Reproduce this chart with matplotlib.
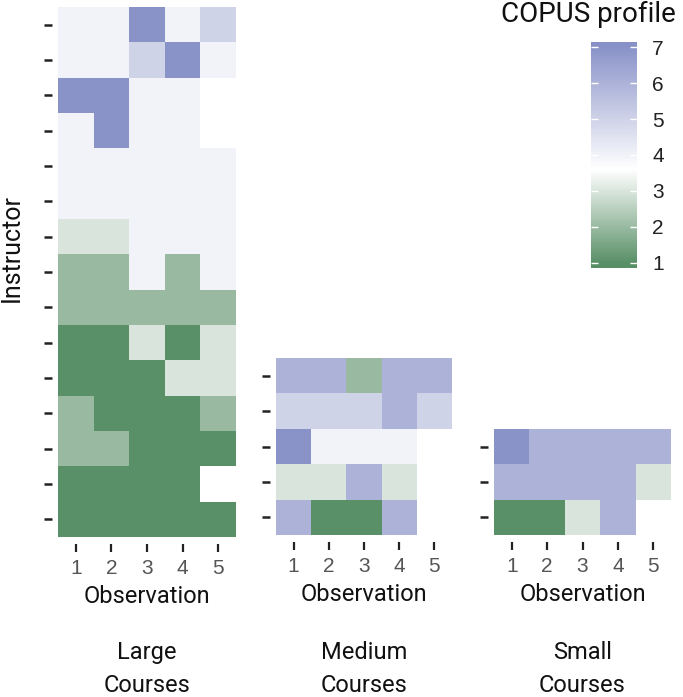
import numpy as np
import matplotlib
matplotlib.use("Agg")
import matplotlib.pyplot as plt
from matplotlib.colors import LinearSegmentedColormap, Normalize

nan = np.nan

# COPUS profile per instructor (rows) and observation (columns)
large = [
    [4, 4, 7, 4, 5],
    [4, 4, 5, 7, 4],
    [7, 7, 4, 4, nan],
    [4, 7, 4, 4, nan],
    [4, 4, 4, 4, 4],
    [4, 4, 4, 4, 4],
    [3, 3, 4, 4, 4],
    [2, 2, 4, 2, 4],
    [2, 2, 2, 2, 2],
    [1, 1, 3, 1, 3],
    [1, 1, 1, 3, 3],
    [2, 1, 1, 1, 2],
    [2, 2, 1, 1, 1],
    [1, 1, 1, 1, nan],
    [1, 1, 1, 1, 1],
]
medium = [
    [6, 6, 2, 6, 6],
    [5, 5, 5, 6, 5],
    [7, 4, 4, 4, nan],
    [3, 3, 6, 3, nan],
    [6, 1, 1, 6, nan],
]
small = [
    [7, 6, 6, 6, 6],
    [6, 6, 6, 6, 3],
    [1, 1, 3, 6, nan],
]
obs_labels = ["1", "2", "3", "4", "5"]
group_names = ["Large\nCourses", "Medium\nCourses", "Small\nCourses"]
cbar_ticks = [1, 2, 3, 4, 5, 6, 7]

VMIN, VMAX = 0.85, 7.15
WHITE_AT = 3.6


def pos(v):
    return (v - VMIN) / (VMAX - VMIN)


cmap = LinearSegmentedColormap.from_list(
    "copus",
    [(0.0, "#578e66"), (pos(1), "#5a9068"), (pos(WHITE_AT), "#ffffff"),
     (pos(7), "#8a93c8"), (1.0, "#8790c7")])
cmap.set_bad("white")
norm = Normalize(VMIN, VMAX)

LABEL_FONT = "Roboto"
TICK_FONT = "Liberation Sans"

fig = plt.figure(figsize=(6.83, 6.97), dpi=100)
W, H = 683, 697


def px_axes(x0, y0, x1, y1):
    return fig.add_axes([x0 / W, 1 - y1 / H, (x1 - x0) / W, (y1 - y0) / H])


boxes = [(58, 7, 236, 537), (276, 358, 452, 535), (494, 429, 671, 535)]
datasets = [large, medium, small]

mesh = None
for i, (data, box, name) in enumerate(zip(datasets, boxes, group_names)):
    ax = px_axes(*box)
    arr = np.ma.masked_invalid(np.array(data, dtype=float))
    mesh = ax.pcolormesh(arr, cmap=cmap, norm=norm)
    ax.set_xlim(0, 5)
    ax.set_ylim(arr.shape[0], 0)
    for s in ax.spines.values():
        s.set_visible(False)
    ax.spines["bottom"].set_position(("outward", 5))
    ax.spines["left"].set_position(("outward", 4))
    ax.set_xticks(np.arange(5) + 0.5)
    ax.set_xticklabels(obs_labels, fontfamily=TICK_FONT)
    ax.set_yticks(np.arange(arr.shape[0]) + 0.5)
    ax.set_yticklabels([])
    ax.tick_params(axis="x", length=6, width=1.6, color="#222222",
                   labelsize=15, labelcolor="#555555", pad=5)
    ax.tick_params(axis="y", length=6, width=1.8, color="#222222")
    ax.set_xlabel("Observation", fontfamily=LABEL_FONT, fontsize=17,
                  color="#111111", labelpad=5)
    cx = (box[0] + box[2]) / 2 / W
    fig.text(cx, 1 - 669 / H, name, ha="center", va="center",
             fontfamily=LABEL_FONT, fontsize=17, color="#111111",
             linespacing=1.55)
    if i == 0:
        ax.set_ylabel("Instructor", fontfamily=LABEL_FONT, fontsize=18,
                      color="#111111", va="center")
        ax.yaxis.set_label_coords(-(58 - 12) / (236 - 58), 0.545)

# colorbar
cax = px_axes(591, 42, 637, 268)
cb = fig.colorbar(mesh, cax=cax, ticks=cbar_ticks)
cb.outline.set_visible(False)
cax.tick_params(left=True, right=True, direction="in", color="white",
                length=5, width=1, labelsize=15, labelcolor="#222222", pad=11)
for t in cax.get_yticklabels():
    t.set_fontfamily(TICK_FONT)
fig.text(588 / W, 1 - 14 / H, "COPUS profile", ha="center", va="center",
         fontfamily=LABEL_FONT, fontsize=20, color="#111111")

fig.savefig("out.png", dpi=100)
